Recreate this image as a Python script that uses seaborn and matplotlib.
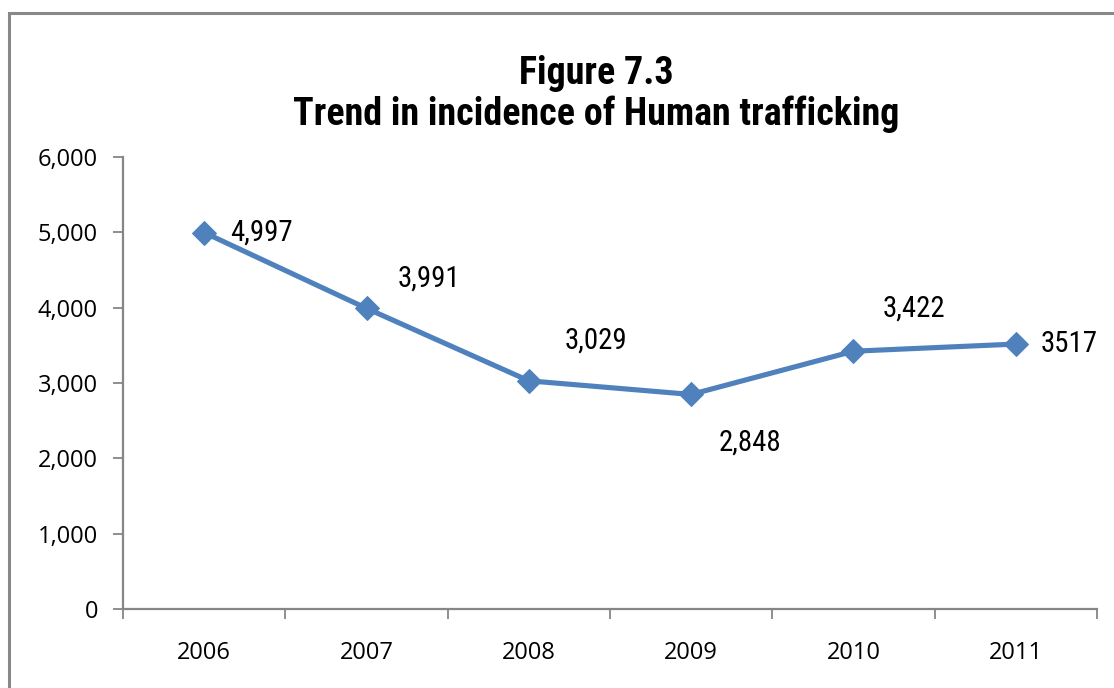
import matplotlib
matplotlib.use("Agg")
import matplotlib.pyplot as plt
from matplotlib import font_manager as fm
from matplotlib.font_manager import FontProperties
from matplotlib.patches import Rectangle
from matplotlib.ticker import FuncFormatter, FixedLocator
import seaborn as sns
import pandas as pd

# Data
years = ["2006", "2007", "2008", "2009", "2010", "2011"]
cases = [4997, 3991, 3029, 2848, 3422, 3517]
labels = ["4,997", "3,991", "3,029", "2,848", "3,422", "3517"]
y_ticks = [0, 1000, 2000, 3000, 4000, 5000, 6000]

# Label placement (offsets in pixels from each marker)
label_offsets = [(26, 0), (31, 30), (36, 40), (27, -48), (29, 43), (25, 0)]

sns.set_style("white")


def _weight(entry):
    w = entry.weight
    return fm.weight_dict.get(w, 400) if isinstance(w, str) else int(w)


def condensed_faces():
    """Return (regular_file, bold_file) of an upright condensed sans family."""
    families = {}
    for f in fm.fontManager.ttflist:
        low = f.name.lower()
        if not ("narrow" in low or "condensed" in low
                or f.stretch in ("condensed", "semi-condensed")):
            continue
        if f.style != "normal" or "italic" in f.fname.lower():
            continue
        families.setdefault(f.name, []).append(f)
    preferred = ["Liberation Sans Narrow", "Arial Narrow", "Roboto Condensed",
                 "Noto Sans Condensed", "Open Sans Condensed",
                 "DejaVu Sans Condensed"]
    order = [n for n in preferred if n in families] + sorted(
        n for n in families if n not in preferred)
    for name in order:
        faces = families[name]
        reg = min(faces, key=lambda e: abs(_weight(e) - 400))
        bold = min(faces, key=lambda e: abs(_weight(e) - 700))
        if _weight(bold) >= 600:
            return reg.fname, bold.fname
    if order:
        f = families[order[0]][0].fname
        return f, f
    return None, None


reg_file, bold_file = condensed_faces()
if reg_file:
    label_fp = FontProperties(fname=reg_file, size=20.8)
    title_fp = FontProperties(fname=bold_file, size=27.4)
else:
    label_fp = FontProperties(family="DejaVu Sans", size=16)
    title_fp = FontProperties(family="DejaVu Sans", weight="bold", size=22)

tick_font = ["Open Sans", "DejaVu Sans"]
plt.rcParams["font.family"] = tick_font
plt.rcParams["text.color"] = "black"

W, H, DPI = 1114, 688, 100
fig = plt.figure(figsize=(W / DPI, H / DPI), dpi=DPI)
ax = fig.add_axes([123 / W, (H - 609) / H, (1097 - 123) / W, (609 - 157) / H])

df = pd.DataFrame({"pos": range(len(years)), "cases": cases})
blue = "#4F81BD"
sns.lineplot(data=df, x="pos", y="cases", ax=ax, color=blue, linewidth=3.7,
             marker="D", markersize=12, markeredgecolor=blue,
             markerfacecolor=blue)

ax.set_xlim(-0.5, len(years) - 0.5)
ax.set_ylim(0, 6000)
ax.set_xlabel("")
ax.set_ylabel("")

# Category ticks sit between categories; labels centred on each category
ax.xaxis.set_major_locator(FixedLocator([i - 0.5 for i in range(len(years) + 1)]))
ax.xaxis.set_major_formatter(FuncFormatter(lambda v, p: ""))
ax.xaxis.set_minor_locator(FixedLocator(list(range(len(years)))))
ax.set_xticklabels(years, minor=True)
ax.tick_params(axis="x", which="minor", length=0, pad=23, labelsize=17,
               labelcolor="black")
ax.tick_params(axis="x", which="major", length=7, width=1.3, color="#868686",
               direction="out", bottom=True)

ax.set_yticks(y_ticks)
ax.yaxis.set_major_formatter(FuncFormatter(lambda v, p: f"{int(v):,}"))
ax.tick_params(axis="y", length=7, width=1.3, color="#868686", direction="out",
               left=True, pad=11, labelsize=17, labelcolor="black")

for side in ("top", "right"):
    ax.spines[side].set_visible(False)
for side in ("left", "bottom"):
    ax.spines[side].set_color("#868686")
    ax.spines[side].set_linewidth(1.6)

for i, (lab, (dx, dy)) in enumerate(zip(labels, label_offsets)):
    ax.annotate(lab, xy=(i, cases[i]), xytext=(dx * 0.72, dy * 0.72),
                textcoords="offset points", ha="left", va="center",
                fontproperties=label_fp, color="black")

fig.text(596 / W, 1 - 94 / H, "Figure 7.3\nTrend in incidence of Human trafficking",
         ha="center", va="center", fontproperties=title_fp,
         linespacing=1.13, color="black")

# Chart frame
fig.patches.append(Rectangle((8.5 / W, -0.1), 1.2, 1 - 12.5 / H + 0.1,
                             transform=fig.transFigure, fill=False,
                             edgecolor="#888888", linewidth=2.2))

fig.savefig("out.png", dpi=DPI)
